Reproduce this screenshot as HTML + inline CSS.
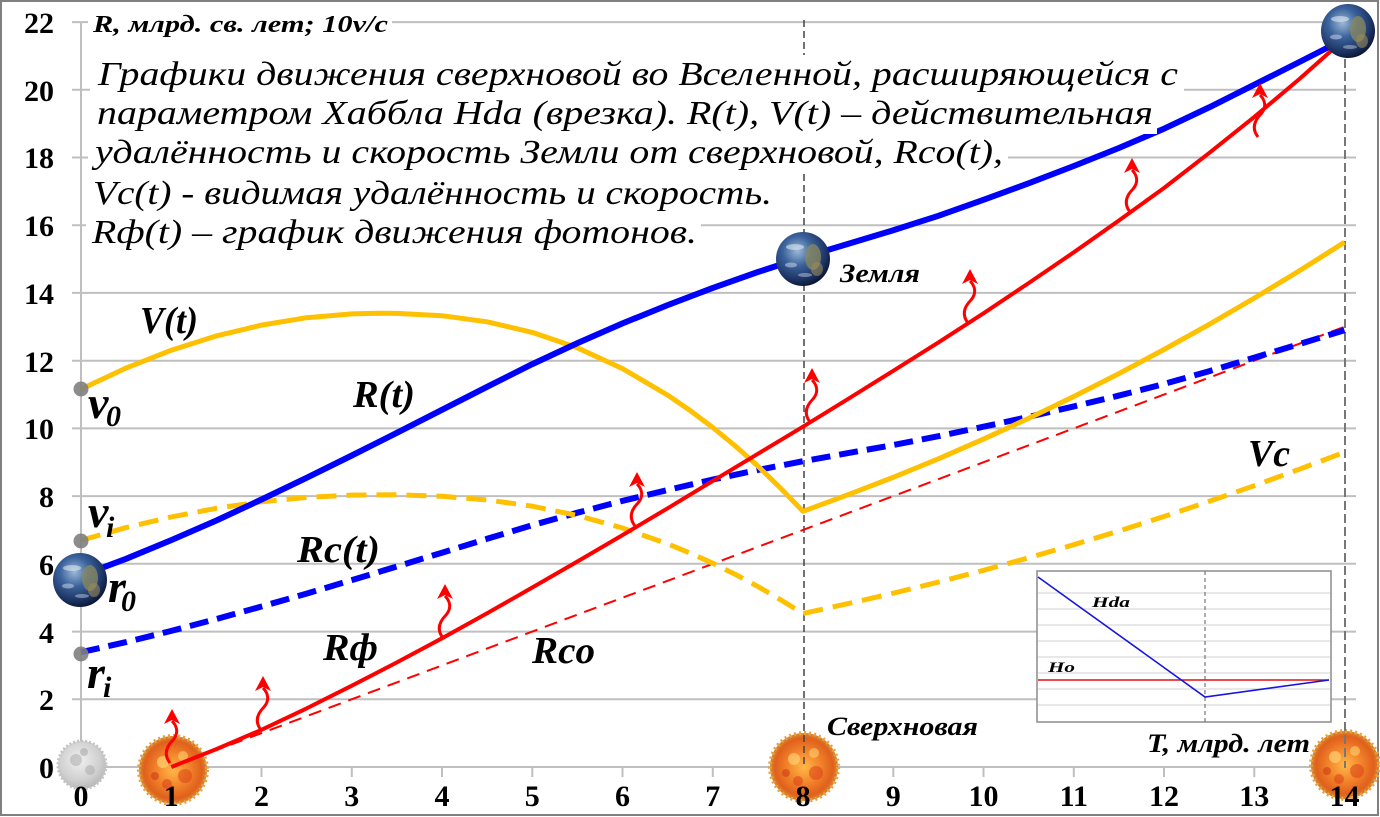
<!DOCTYPE html>
<html><head><meta charset="utf-8"><style>
html,body{margin:0;padding:0;background:#fff;}
svg{display:block;font-family:"Liberation Serif","Times New Roman",Times,serif;}
.bi{font-weight:bold;font-style:italic;}
.it{font-style:italic;}
.tk{font-weight:bold;font-size:30px;}
</style></head><body>
<svg width="1380" height="817" viewBox="0 0 1380 817" xmlns="http://www.w3.org/2000/svg" font-family="Liberation Serif, Times New Roman, Times, serif">
<defs>
<radialGradient id="eg" cx="40%" cy="35%" r="68%">
<stop offset="0" stop-color="#9bb8d6"/><stop offset="0.4" stop-color="#3b639c"/><stop offset="0.8" stop-color="#1b3160"/><stop offset="1" stop-color="#0a1430"/></radialGradient>
<radialGradient id="sg" cx="50%" cy="50%" r="50%">
<stop offset="0" stop-color="#ffb848"/><stop offset="0.5" stop-color="#f2822a"/><stop offset="0.85" stop-color="#e0601c"/><stop offset="1" stop-color="#d88a30"/></radialGradient>
<radialGradient id="mg" cx="45%" cy="40%" r="60%">
<stop offset="0" stop-color="#f0f0f0"/><stop offset="0.7" stop-color="#d0d0d0"/><stop offset="1" stop-color="#b8b8b8"/></radialGradient>
<g id="earth">
<circle r="27" fill="url(#eg)"/>
<ellipse cx="10" cy="-2" rx="8" ry="13" fill="#8c8a5c" opacity="0.75"/>
<ellipse cx="14" cy="10" rx="6" ry="7" fill="#9a8a58" opacity="0.6"/>
<ellipse cx="-8" cy="-12" rx="9" ry="3" fill="#e8eef6" opacity="0.55"/>
<ellipse cx="-12" cy="6" rx="6" ry="2.5" fill="#e8eef6" opacity="0.45"/>
<ellipse cx="2" cy="16" rx="7" ry="2" fill="#e8eef6" opacity="0.4"/>
</g>
<g id="sn">
<circle r="34" fill="url(#sg)"/>
<circle r="34" fill="none" stroke="#e8a040" stroke-width="4" stroke-dasharray="2 3"/>
<circle cx="-10" cy="-8" r="6" fill="#ffd070" opacity="0.7"/>
<circle cx="12" cy="6" r="7" fill="#d83a14" opacity="0.5"/>
<circle cx="-6" cy="14" r="5" fill="#d83a14" opacity="0.5"/>
<circle cx="10" cy="-14" r="5" fill="#ffd070" opacity="0.6"/>
<circle cx="-18" cy="6" r="4" fill="#c83010" opacity="0.5"/>
</g>
<g id="ph">
<path d="M0,12 C5,17 7,24 1,31 C-5,37 -9,45 -2,54" fill="none" stroke="#ff0000" stroke-width="3"/>
<polygon points="0,0 -8,15 0,11 8,15" fill="#ff0000"/>
</g>
</defs>

<rect x="0" y="0" width="1380" height="817" fill="#fff"/>
<rect x="1" y="1" width="1377" height="814" fill="none" stroke="#808080" stroke-width="2"/>

<!-- gridlines -->
<g stroke="#bfbfbf" stroke-width="2">
<line x1="72" y1="699.3" x2="1356" y2="699.3"/>
<line x1="72" y1="631.6" x2="1356" y2="631.6"/>
<line x1="72" y1="563.8" x2="1356" y2="563.8"/>
<line x1="72" y1="496.1" x2="1356" y2="496.1"/>
<line x1="72" y1="428.4" x2="1356" y2="428.4"/>
<line x1="72" y1="360.7" x2="1356" y2="360.7"/>
<line x1="72" y1="292.9" x2="1356" y2="292.9"/>
<line x1="72" y1="225.2" x2="1356" y2="225.2"/>
<line x1="72" y1="157.5" x2="1356" y2="157.5"/>
<line x1="72" y1="89.8" x2="1356" y2="89.8"/>
<line x1="72" y1="22.1" x2="1370" y2="22.1"/>
<line x1="72" y1="767" x2="1356" y2="767"/>
<line x1="81" y1="22" x2="81" y2="767"/>
</g>
<g stroke="#bfbfbf" stroke-width="2">
<line x1="81" y1="767" x2="81" y2="777"/><line x1="171.3" y1="767" x2="171.3" y2="777"/><line x1="261.5" y1="767" x2="261.5" y2="777"/><line x1="351.8" y1="767" x2="351.8" y2="777"/><line x1="442" y1="767" x2="442" y2="777"/><line x1="532.3" y1="767" x2="532.3" y2="777"/><line x1="622.5" y1="767" x2="622.5" y2="777"/><line x1="712.8" y1="767" x2="712.8" y2="777"/><line x1="803" y1="767" x2="803" y2="777"/><line x1="893.3" y1="767" x2="893.3" y2="777"/><line x1="983.5" y1="767" x2="983.5" y2="777"/><line x1="1073.8" y1="767" x2="1073.8" y2="777"/><line x1="1164" y1="767" x2="1164" y2="777"/><line x1="1254.3" y1="767" x2="1254.3" y2="777"/><line x1="1344.5" y1="767" x2="1344.5" y2="777"/>
</g>

<!-- moon & supernovae (under lines) -->
<g>
<circle cx="82" cy="765" r="24" fill="url(#mg)"/>
<circle cx="82" cy="765" r="24" fill="none" stroke="#c4c4c4" stroke-width="3" stroke-dasharray="2 2"/>
<circle cx="76" cy="760" r="6" fill="#b0b0b0" opacity="0.6"/>
<circle cx="90" cy="770" r="5" fill="#a8a8a8" opacity="0.5"/>
<circle cx="84" cy="752" r="4" fill="#a0a0a0" opacity="0.5"/>
</g>
<use href="#sn" x="173" y="770"/>
<use href="#sn" x="804" y="767"/>
<use href="#sn" x="1345" y="765"/>

<!-- vertical dashed -->
<line x1="804" y1="20" x2="804" y2="768" stroke="#444" stroke-width="1.5" stroke-dasharray="7 4"/>
<line x1="1345" y1="20" x2="1345" y2="768" stroke="#777" stroke-width="2" stroke-dasharray="9 4"/>

<!-- Rco thin dashed -->
<line x1="171.3" y1="767" x2="1344.5" y2="326.8" stroke="#ff0000" stroke-width="2" stroke-dasharray="13 8"/>

<!-- Rc dashed blue -->
<polyline fill="none" stroke="#0000ff" stroke-width="6" stroke-dasharray="19 9" points="81,652.2 126.1,642.1 171.3,630.9 216.4,619 261.5,606.5 306.6,593.6 351.8,580.1 396.9,566.5 442,552.7 487.1,538.8 532.3,525.2 577.4,512.7 622.5,500.9 667.6,490 712.8,479.5 757.9,470 803,461.2 848.1,453.1 893.3,445 938.4,436.2 983.5,426.7 1028.6,416.9 1073.8,406.4 1118.9,395.6 1164,384 1209.1,371.2 1254.3,357.6 1299.4,344.1 1344.5,330.2"/>

<!-- Vc dashed yellow -->
<polyline fill="none" stroke="#ffc000" stroke-width="5" stroke-dasharray="20 10" points="81,540.3 126.1,527.6 171.3,516.9 216.4,508.3 261.5,501.8 306.6,497.4 351.8,495.1 396.9,494.8 442,496.3 487.1,499.9 532.3,506.2 577.4,515.5 622.5,528 667.6,543.9 690.2,553.1 712.8,563.3 735.3,574.4 757.9,586.5 780.4,599.6 803,613.5 848.1,603.6 893.3,593.2 938.4,582.1 983.5,570.3 1028.6,557.8 1073.8,544.7 1118.9,531 1164,516.5 1209.1,501.4 1254.3,485.7 1299.4,469.2 1344.5,452.2"/>

<!-- V solid yellow -->
<polyline fill="none" stroke="#ffc000" stroke-width="5" stroke-linejoin="round" points="81,389.2 126.1,368 171.3,350.2 216.4,335.9 261.5,325.1 306.6,317.7 351.8,313.9 378.8,313.3 396.9,313.4 442,315.7 487.1,321.8 532.3,332.4 577.4,347.8 622.5,368.6 667.6,395.1 690.2,410.6 712.8,427.5 735.3,446 757.9,466.1 780.4,488 803,511.3 848.1,494.7 893.3,477.3 938.4,458.8 983.5,439.1 1028.6,418.4 1073.8,396.5 1118.9,373.6 1164,349.5 1209.1,324.4 1254.3,298.1 1299.4,270.7 1344.5,242.3"/>

<!-- R solid blue -->
<polyline fill="none" stroke="#0000ff" stroke-width="6" stroke-linejoin="round" points="81,575.7 126.1,558.8 171.3,540.1 216.4,520.5 261.5,499.5 306.6,477.8 351.8,455.5 396.9,432.8 442,409.8 487.1,386.8 532.3,364.1 577.4,343.1 622.5,323.4 667.6,305.1 712.8,287.9 757.9,272 803,257.4 848.1,243.9 893.3,230.3 938.4,215.8 983.5,199.8 1028.6,183.3 1073.8,166 1118.9,148 1164,128.7 1209.1,107.4 1254.3,84.7 1299.4,62 1344.5,39"/>

<!-- R photon solid red -->
<polyline fill="none" stroke="#ff0000" stroke-width="4" stroke-linejoin="round" points="171.3,767 216.4,749.1 261.5,729.8 306.6,708.4 351.8,685.7 396.9,662.4 442,638.3 487.1,613.3 532.3,587.5 577.4,561.5 622.5,535.1 667.6,508.3 712.8,480.9 757.9,453.8 803,426.7 848.1,398.9 893.3,370.8 938.4,342.4 983.5,313.3 1028.6,283.1 1073.8,252.3 1118.9,220.5 1164,188 1209.1,153.1 1254.3,116.9 1299.4,79 1344.5,39"/>

<!-- text block background -->
<g fill="#fff">
<rect x="90" y="55" width="1094" height="41"/>
<rect x="90" y="96" width="1067" height="38"/>
<rect x="88" y="134" width="920" height="38"/>
<rect x="86" y="172" width="690" height="41"/>
<rect x="86" y="213" width="615" height="39"/>
<rect x="88" y="9" width="304" height="30"/>
</g>
<g class="it" font-size="34" fill="#000" font-family="Liberation Serif, Times New Roman, serif">
<text x="98" y="85" textLength="1080" lengthAdjust="spacingAndGlyphs">Графики движения сверхновой во Вселенной, расширяющейся с</text>
<text x="97" y="124" textLength="1056" lengthAdjust="spacingAndGlyphs">параметром Хаббла Hda (врезка). R(t), V(t) – действительная</text>
<text x="95" y="163" textLength="908" lengthAdjust="spacingAndGlyphs">удалённость и скорость Земли от сверхновой, Rco(t),</text>
<text x="93" y="204" textLength="679" lengthAdjust="spacingAndGlyphs">Vc(t) - видимая удалённость и скорость.</text>
<text x="92" y="243" textLength="605" lengthAdjust="spacingAndGlyphs">Rф(t) – график движения фотонов.</text>
</g>
<text class="bi" x="93" y="32" font-size="24" textLength="295" lengthAdjust="spacingAndGlyphs" font-family="Liberation Serif, Times New Roman, serif">R, млрд. св. лет; 10v/c</text>

<!-- photon arrows -->
<use href="#ph" x="172" y="709"/>
<use href="#ph" x="263" y="676"/>
<use href="#ph" x="445" y="584"/>
<use href="#ph" x="637" y="472"/>
<use href="#ph" x="812" y="368"/>
<use href="#ph" x="970" y="269"/>
<use href="#ph" x="1132" y="158"/>
<use href="#ph" x="1260" y="83"/>

<!-- gray dots -->
<g fill="#808080" opacity="0.9">
<circle cx="81" cy="389" r="7.5"/>
<circle cx="81" cy="541" r="7.5"/>
<circle cx="81" cy="654" r="7.5"/>
</g>

<!-- earths -->
<use href="#earth" x="80" y="580"/>
<use href="#earth" x="803" y="259"/>
<use href="#earth" x="1348" y="31"/>

<!-- inset -->
<rect x="1037" y="571" width="294" height="151" fill="#fff" stroke="#8c8c8c" stroke-width="1.5"/>
<g stroke="#dadada" stroke-width="1.2">
<line x1="1038" y1="593" x2="1330" y2="593"/><line x1="1038" y1="609" x2="1330" y2="609"/><line x1="1038" y1="625" x2="1330" y2="625"/><line x1="1038" y1="641" x2="1330" y2="641"/><line x1="1038" y1="657" x2="1330" y2="657"/><line x1="1038" y1="673" x2="1330" y2="673"/><line x1="1038" y1="689" x2="1330" y2="689"/><line x1="1038" y1="705" x2="1330" y2="705"/>
</g>
<line x1="1205" y1="571" x2="1205" y2="722" stroke="#777" stroke-width="1.2" stroke-dasharray="4 3"/>
<line x1="1038" y1="680" x2="1329" y2="680" stroke="#e01010" stroke-width="1.5"/>
<polyline points="1038,577 1205,697 1329,680" fill="none" stroke="#1515e0" stroke-width="1.6"/>
<g font-family="Liberation Serif, Times New Roman, serif">
<text class="bi" x="1092" y="607" font-size="15" textLength="38" lengthAdjust="spacingAndGlyphs">Hda</text>
<text class="bi" x="1048" y="672" font-size="15" textLength="27" lengthAdjust="spacingAndGlyphs">Ho</text>
</g>

<!-- labels -->
<g class="bi" fill="#000" font-family="Liberation Serif, Times New Roman, serif">
<text x="140" y="333" font-size="38" textLength="58" lengthAdjust="spacingAndGlyphs">V(t)</text>
<text x="353" y="407" font-size="38" textLength="62" lengthAdjust="spacingAndGlyphs">R(t)</text>
<text x="297" y="562" font-size="38" textLength="83" lengthAdjust="spacingAndGlyphs">Rc(t)</text>
<text x="323" y="660" font-size="38" textLength="55" lengthAdjust="spacingAndGlyphs">Rф</text>
<text x="532" y="663" font-size="38" textLength="63" lengthAdjust="spacingAndGlyphs">Rco</text>
<text x="1248" y="466" font-size="38" textLength="42" lengthAdjust="spacingAndGlyphs">Vc</text>
<text x="88" y="418" font-size="46">v</text><text x="106" y="426" font-size="30">0</text>
<text x="88" y="527" font-size="46">v</text><text x="106" y="537" font-size="30">i</text>
<text x="108" y="602" font-size="46">r</text><text x="121" y="611" font-size="30">0</text>
<text x="87" y="688" font-size="46">r</text><text x="103" y="697" font-size="30">i</text>
<text x="840" y="282" font-size="26" textLength="80" lengthAdjust="spacingAndGlyphs">Земля</text>
<text x="827" y="735" font-size="26" textLength="151" lengthAdjust="spacingAndGlyphs">Сверхновая</text>
<text x="1147" y="752" font-size="26" textLength="163" lengthAdjust="spacingAndGlyphs">T, млрд. лет</text>
</g>

<!-- tick labels -->
<g class="tk" text-anchor="end" fill="#000" font-family="Liberation Serif, Times New Roman, serif">
<text x="54" y="778">0</text><text x="54" y="710">2</text><text x="54" y="643">4</text><text x="54" y="575">6</text><text x="54" y="507">8</text><text x="54" y="439">10</text><text x="54" y="372">12</text><text x="54" y="304">14</text><text x="54" y="236">16</text><text x="54" y="168">18</text><text x="54" y="101">20</text><text x="54" y="33">22</text>
</g>
<g class="tk" text-anchor="middle" fill="#000" font-family="Liberation Serif, Times New Roman, serif">
<text x="81" y="806">0</text><text x="171.3" y="806">1</text><text x="261.5" y="806">2</text><text x="351.8" y="806">3</text><text x="442" y="806">4</text><text x="532.3" y="806">5</text><text x="622.5" y="806">6</text><text x="712.8" y="806">7</text><text x="803" y="806">8</text><text x="893.3" y="806">9</text><text x="983.5" y="806">10</text><text x="1073.8" y="806">11</text><text x="1164" y="806">12</text><text x="1254.3" y="806">13</text><text x="1344.5" y="806">14</text>
</g>
</svg>
</body></html>
